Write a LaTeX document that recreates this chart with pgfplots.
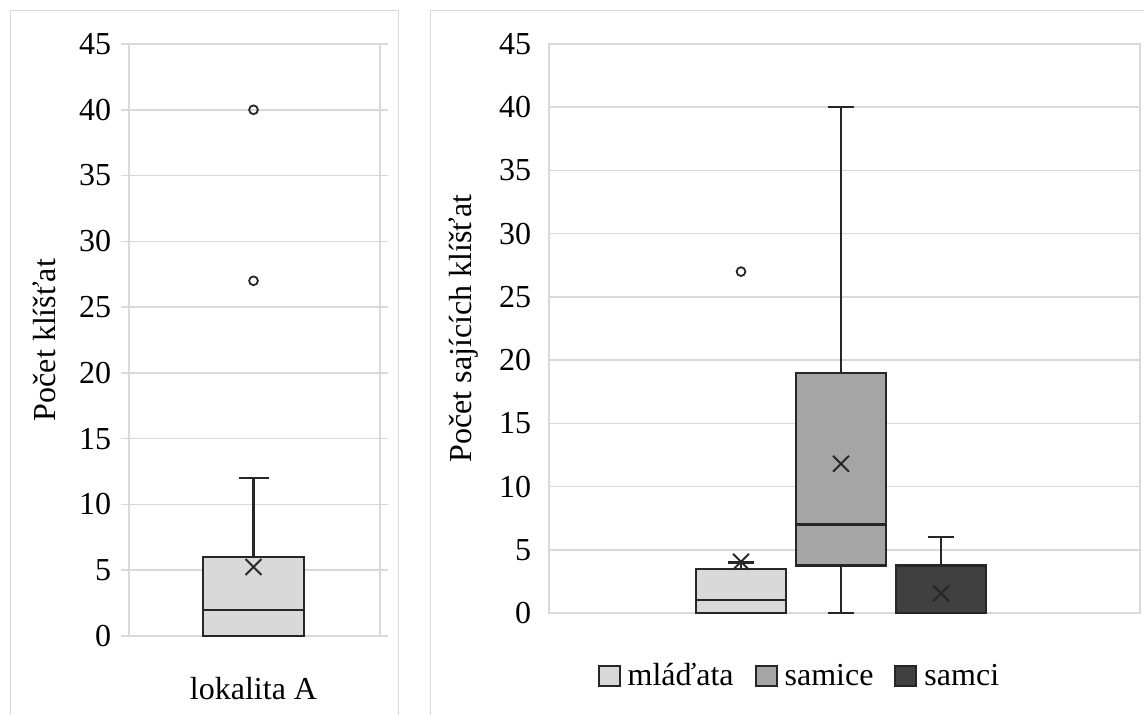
\documentclass[border=0pt]{standalone}
\usepackage{fontspec}
\setmainfont{Liberation Serif}
\usepackage{pgfplots}
\pgfplotsset{compat=1.18}
\usepgfplotslibrary{statistics}
\definecolor{gridc}{HTML}{D9D9D9}
\definecolor{lightb}{HTML}{D9D9D9}
\definecolor{midb}{HTML}{A5A5A5}
\definecolor{darkb}{HTML}{404040}
\definecolor{edge}{HTML}{262626}
\newcommand{\fs}{\fontsize{16}{19.2}\selectfont}
\pgfplotsset{
  base/.style={
    scale only axis,
    anchor=south west,
    clip=false,
    ymin=0, ymax=45, ytick={0,5,...,45},
    axis line style={gridc, line width=0.8pt},
    ymajorgrids,
    grid style={gridc, line width=0.8pt},
    ytick style={gridc, line width=0.8pt},
    tick align=outside,
    xtick=\empty,
    yticklabel style={font=\fs, anchor=east, inner xsep=0pt},
    /pgf/number format/assume math mode=true,
    ylabel style={font=\fs, at={(rel axis cs:0,0.5)}, anchor=center, yshift=42.5pt},
    boxplot/every whisker/.style={line width=1.1pt},
    boxplot/every median/.style={line width=1.1pt},
  },
  bx/.style={boxplot/draw direction=y, draw=edge, line width=1.25pt, forget plot},
  meanm/.style={only marks, mark=x, mark size=5.6pt, draw=edge, line width=1pt, forget plot},
  outl/.style={only marks, mark=o, mark size=2.2pt, draw=edge, line width=0.9pt, forget plot},
}
\begin{document}
\begin{tikzpicture}
\path[use as bounding box] (0,0) rectangle (572pt,357pt);
\draw[gridc, line width=0.5pt] (5pt,-2pt) -- (5pt,351.5pt) -- (199pt,351.5pt) -- (199pt,-2pt);
\draw[gridc, line width=0.5pt] (215pt,-2pt) -- (215pt,351.5pt) -- (580pt,351.5pt);

% left panel
\begin{axis}[base,
  at={(64.5pt,39pt)}, width=125.5pt, height=296pt,
  xmin=0, xmax=2.51,
  major tick length=4pt,
  yticklabel style={xshift=-4.75pt},
  ylabel={Počet klíšťat},
  xlabel={lokalita A},
  xlabel style={font=\fs, at={(rel axis cs:0.496,0)}, anchor=center, yshift=-26.5pt},
]
\addplot[bx, fill=lightb, boxplot prepared={draw position=1.245,
  lower whisker=0, lower quartile=0, median=2, upper quartile=6, upper whisker=12,
  box extend=1.01, whisker extend=0.30}] coordinates {};
\addplot[meanm] coordinates {(1.245,5.25)};
\addplot[outl] coordinates {(1.245,27) (1.245,40)};
\end{axis}

% right panel
\begin{axis}[base,
  at={(274.5pt,50.5pt)}, width=295.5pt, height=284.5pt,
  xmin=0, xmax=5.91,
  major tick length=0pt,
  yticklabel style={xshift=-8.75pt},
  ylabel={Počet sajících klíšťat},
  legend style={at={(0.422,-0.1107)}, anchor=center, draw=none, fill=none, font=\fs,
    /tikz/every even column/.append style={column sep=10.5pt},
    nodes={inner xsep=0pt}},
  legend columns=3,
  legend cell align=left,
  legend image code/.code={\draw[#1] (0pt,-5pt) rectangle (10.5pt,5pt); \path (14pt,0pt);},
]
\addlegendimage{fill=lightb, draw=edge, line width=1pt}
\addlegendentry{mláďata}
\addlegendimage{fill=midb, draw=edge, line width=1pt}
\addlegendentry{samice}
\addlegendimage{fill=darkb, draw=edge, line width=1pt}
\addlegendentry{samci}
\addplot[bx, fill=lightb, boxplot prepared={draw position=1.92,
  lower whisker=0, lower quartile=0, median=1, upper quartile=3.5, upper whisker=4,
  box extend=0.90, whisker extend=0.26}] coordinates {};
\addplot[bx, fill=midb, boxplot prepared={draw position=2.92,
  lower whisker=0, lower quartile=3.75, median=7, upper quartile=19, upper whisker=40,
  box extend=0.90, whisker extend=0.26}] coordinates {};
\addplot[bx, fill=darkb, boxplot prepared={draw position=3.92,
  lower whisker=0, lower quartile=0, median=0, upper quartile=3.75, upper whisker=6,
  box extend=0.90, whisker extend=0.26}] coordinates {};
\addplot[meanm] coordinates {(1.92,4.05) (2.92,11.8) (3.92,1.55)};
\addplot[outl] coordinates {(1.92,27)};
\end{axis}
\end{tikzpicture}
\end{document}
